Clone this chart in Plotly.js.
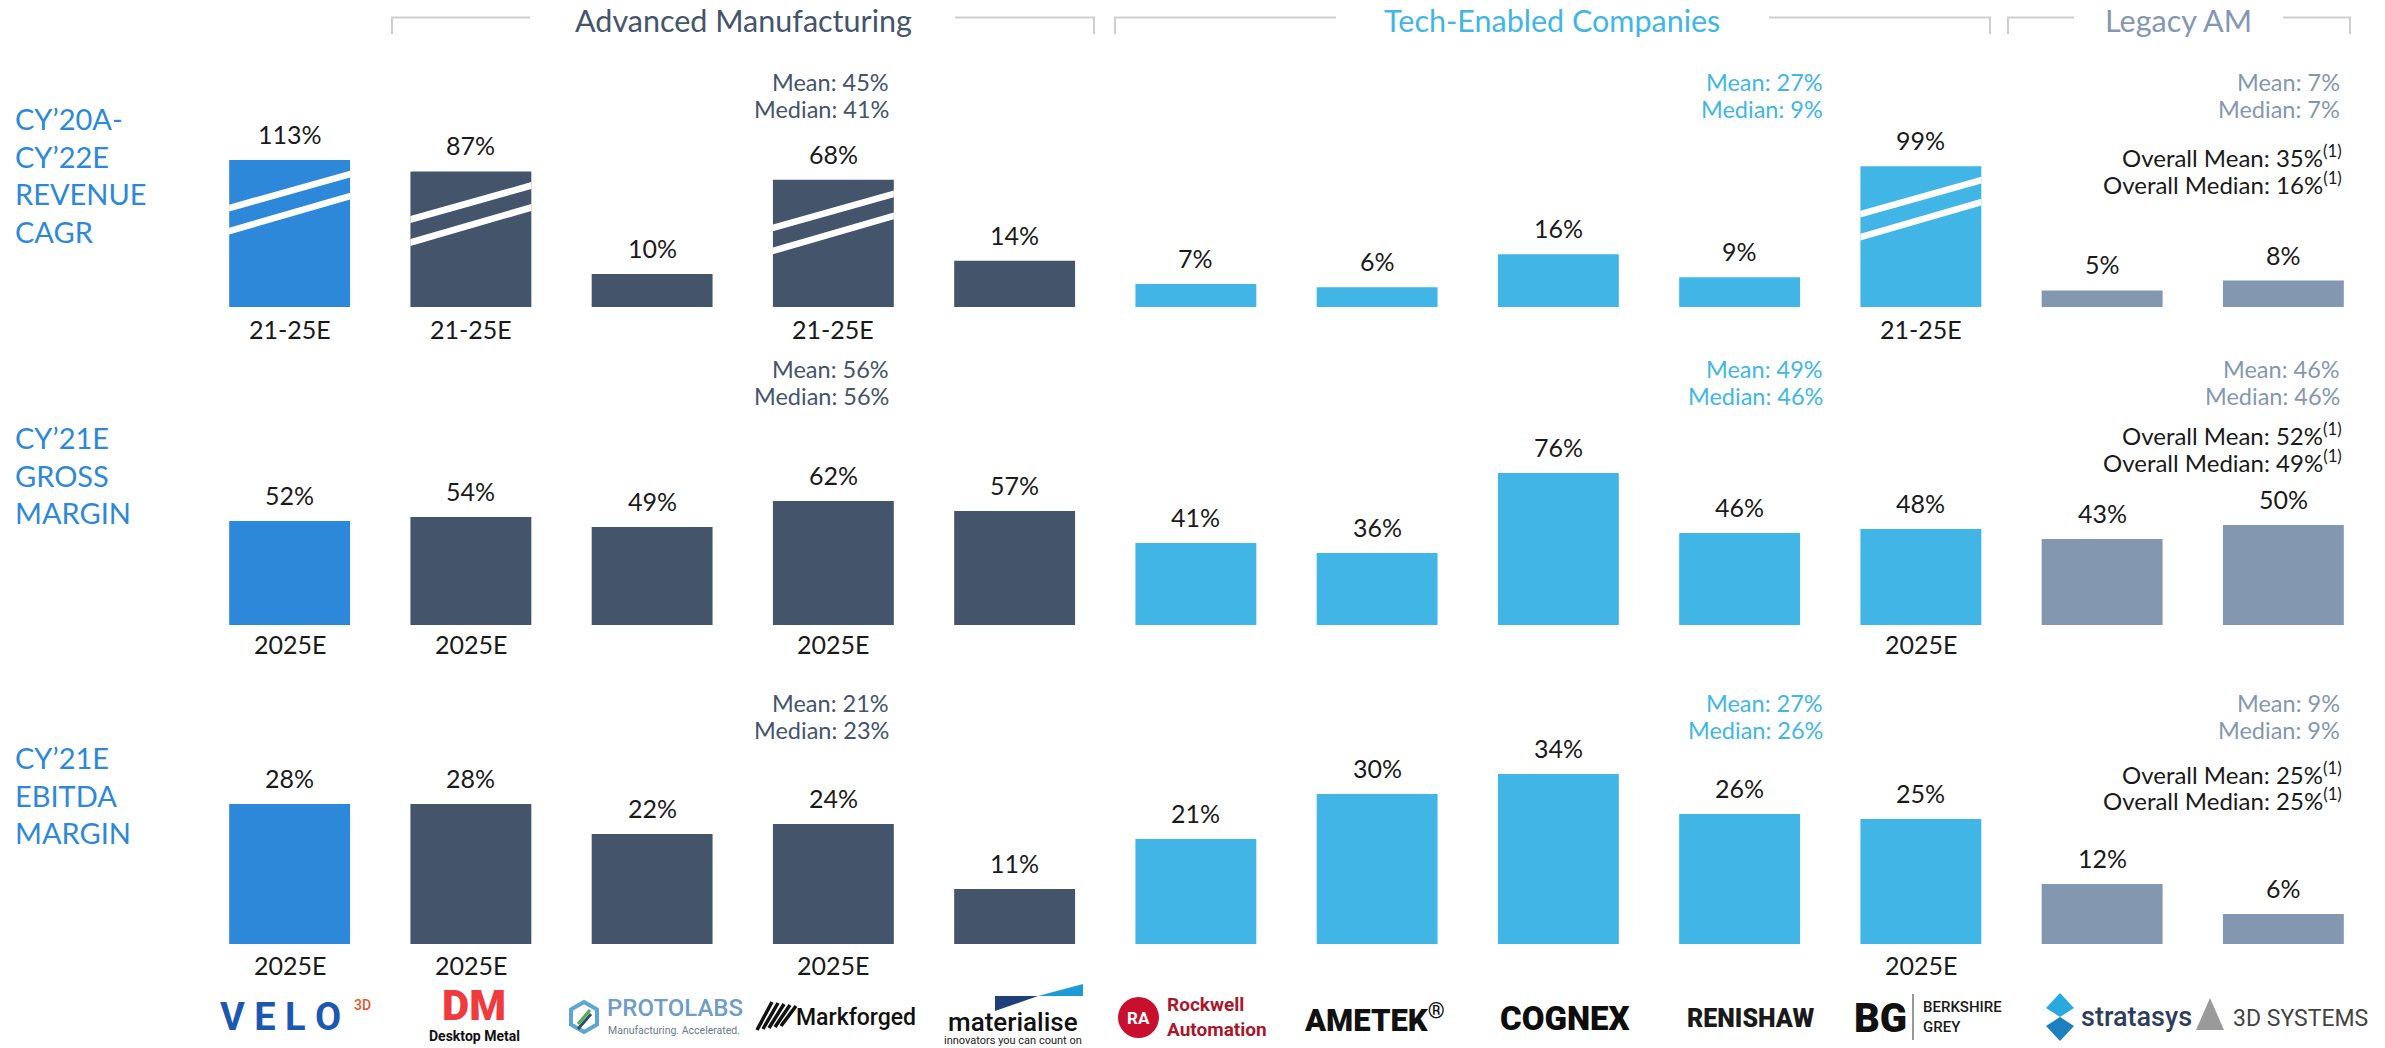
<!DOCTYPE html>
<html><head><meta charset="utf-8">
<script src="https://cdn.plot.ly/plotly-3.0.1.min.js"></script>
<style>html,body{margin:0;padding:0;background:#fff;overflow:hidden}#chart{width:2385px;height:1048px}</style>
</head><body><div id="chart"></div>
<script>
// ---------------- data ----------------
const companies = ['Velo3D','Desktop Metal','Protolabs','Markforged','Materialise','Rockwell Automation','AMETEK','Cognex','Renishaw','Berkshire Grey','Stratasys','3D Systems'];
const companyGroup = ['feature','advanced','advanced','advanced','advanced','tech','tech','tech','tech','tech','legacy','legacy'];
const revenueCagr = [113, 87, 10, 68, 14, 7, 6, 16, 9, 99, 5, 8];
const grossMargin = [52, 54, 49, 62, 57, 41, 36, 76, 46, 48, 43, 50];
const ebitdaMargin = [28, 28, 22, 24, 11, 21, 30, 34, 26, 25, 12, 6];
const periodRevenue = ['21-25E','21-25E','','21-25E','','','','','','21-25E','',''];
const periodMargin = ['2025E','2025E','','2025E','','','','','','2025E','',''];
const rowTitles = ['CY’20A-<br>CY’22E<br>REVENUE<br>CAGR','CY’21E<br>GROSS<br>MARGIN','CY’21E<br>EBITDA<br>MARGIN'];
const groupNames = ['Advanced Manufacturing','Tech-Enabled Companies','Legacy AM'];
const meanRevenue = [45, 27, 7];
const medianRevenue = [41, 9, 7];
const meanGross = [56, 49, 46];
const medianGross = [56, 46, 46];
const meanEbitda = [21, 27, 9];
const medianEbitda = [23, 26, 9];
const overallMean = [35, 52, 25];
const overallMedian = [16, 49, 25];

// ---------------- style / layout ----------------
const W = 2385, H = 1048;
const FONT = 'Lato, "Open Sans", sans-serif';
const fx = p => p / W;
const fy = p => 1 - p / H;
const colors = {feature:'#2E88D9', advanced:'#44546A', tech:'#41B6E6', legacy:'#8497B0'};
const groupColors = [colors.advanced, colors.tech, colors.legacy];
const BREAK = 34, COMPRESS = 0.1333;   // broken-axis scale for the revenue row
const BAR_W = 0.667;

const rows = [
  {values: revenueCagr, period: periodRevenue, mean: meanRevenue, median: medianRevenue, base: 307, top: 40, ppu: 3.3, ax: 'y', brk: true, pShift: 22, meanY: [82,109], overY: [156,182.5], titleY: 175.5},
  {values: grossMargin, period: periodMargin, mean: meanGross, median: medianGross, base: 625, top: 340, ppu: 2.0, ax: 'y2', brk: false, pShift: 19, meanY: [369,396], overY: [434,461], titleY: 475},
  {values: ebitdaMargin, period: periodMargin, mean: meanEbitda, median: medianEbitda, base: 944, top: 660, ppu: 5.0, ax: 'y3', brk: false, pShift: 21, meanY: [703,730], overY: [773,799], titleY: 795}
];
const meanRightX = [891, 1825, 2342];

function shown(v, brk) { return (brk && v > BREAK) ? BREAK + (v - BREAK) * COMPRESS : v; }

const idx = companies.map((_, i) => i);
const traces = [];
const annotations = [];
const shapes = [];

rows.forEach((r, ri) => {
  const ys = r.values.map(v => shown(v, r.brk));
  traces.push({
    type: 'bar', x: idx, y: ys, width: BAR_W, xaxis: 'x', yaxis: r.ax,
    marker: {color: companyGroup.map(g => colors[g]), line: {width: 0}},
    hoverinfo: 'skip', showlegend: false
  });
  // break stripes
  if (r.brk) {
    const sx = [], sy = [];
    const hw = BAR_W / 2, th = 3.4;
    const stripeOff = [[48, 14], [71, 36]];
    r.values.forEach((v, i) => {
      if (v > BREAK) {
        const t = shown(v, true);
        stripeOff.forEach(([l, rr]) => {
          sx.push(i - hw, i + hw, i + hw, i - hw, i - hw, null);
          sy.push(t - (l - th) / r.ppu, t - (rr - th) / r.ppu, t - (rr + th) / r.ppu, t - (l + th) / r.ppu, t - (l - th) / r.ppu, null);
        });
      }
    });
    traces.push({type: 'scatter', mode: 'lines', x: sx, y: sy, xaxis: 'x', yaxis: r.ax, fill: 'toself',
      fillcolor: '#FFFFFF', line: {width: 0, color: '#FFFFFF'}, hoverinfo: 'skip', showlegend: false});
  }
  // value labels
  r.values.forEach((v, i) => {
    annotations.push({x: i, y: ys[i], xref: 'x', yref: r.ax, text: v + '%', showarrow: false,
      yanchor: 'middle', yshift: 26, font: {family: FONT, size: 25, color: '#1A1A1A'}});
    if (r.period[i]) {
      annotations.push({x: i, y: 0, xref: 'x', yref: r.ax, text: r.period[i], showarrow: false,
        yanchor: 'middle', yshift: -r.pShift, font: {family: FONT, size: 25, color: '#1A1A1A'}});
    }
  });
  // mean / median per group
  for (let g = 0; g < 3; g++) {
    annotations.push({x: fx(meanRightX[g]), y: fy(r.meanY[0]), xref: 'paper', yref: 'paper', xanchor: 'right', yanchor: 'middle',
      text: 'Mean: ' + r.mean[g] + '%', showarrow: false, font: {family: FONT, size: 23.5, color: groupColors[g]}});
    annotations.push({x: fx(meanRightX[g]), y: fy(r.meanY[1]), xref: 'paper', yref: 'paper', xanchor: 'right', yanchor: 'middle',
      text: 'Median: ' + r.median[g] + '%', showarrow: false, font: {family: FONT, size: 23.5, color: groupColors[g]}});
  }
  annotations.push({x: fx(2344), y: fy(r.overY[0]), xref: 'paper', yref: 'paper', xanchor: 'right', yanchor: 'middle',
    text: 'Overall Mean: ' + overallMean[ri] + '%<sup>(1)</sup>', showarrow: false, font: {family: FONT, size: 24, color: '#1A1A1A'}});
  annotations.push({x: fx(2344), y: fy(r.overY[1]), xref: 'paper', yref: 'paper', xanchor: 'right', yanchor: 'middle',
    text: 'Overall Median: ' + overallMedian[ri] + '%<sup>(1)</sup>', showarrow: false, font: {family: FONT, size: 24, color: '#1A1A1A'}});
  // row title
  annotations.push({x: fx(13), y: fy(r.titleY), xref: 'paper', yref: 'paper', xanchor: 'left', yanchor: 'middle', align: 'left',
    text: rowTitles[ri], showarrow: false, font: {family: FONT, size: 29, color: '#2E88D9'}});
});

// group headers with brackets
const headerCenters = [743, 1552, 2178];
const brackets = [[392, 530, 955, 1094], [1115, 1336, 1769, 1990], [2008, 2074, 2283, 2350]];
groupNames.forEach((name, g) => {
  annotations.push({x: fx(headerCenters[g]), y: fy(20), xref: 'paper', yref: 'paper', xanchor: 'center', yanchor: 'middle',
    text: name, showarrow: false, font: {family: FONT, size: 30.5, color: groupColors[g]}});
  const [a, b, c, d] = brackets[g];
  const P = (x, y) => fx(x) + ',' + fy(y);
  shapes.push({type: 'path', xref: 'paper', yref: 'paper', line: {color: '#CFCFCF', width: 2},
    path: 'M' + P(a, 34) + 'L' + P(a, 17.5) + 'L' + P(b, 17.5) + 'M' + P(c, 17.5) + 'L' + P(d, 17.5) + 'L' + P(d, 34)});
});

// ---------------- logos (text renditions) ----------------
const LY = 1017;
function A(x, y, text, font, extra) {
  annotations.push(Object.assign({x: fx(x), y: fy(y), xref: 'paper', yref: 'paper', xanchor: 'center', yanchor: 'middle',
    text: text, showarrow: false, font: font}, extra || {}));
}
function PATH(pts, fill, line) {
  const p = pts.map((q, k) => (k ? 'L' : 'M') + fx(q[0]) + ',' + fy(q[1])).join('') + 'Z';
  shapes.push({type: 'path', xref: 'paper', yref: 'paper', path: p, fillcolor: fill || 'rgba(0,0,0,0)',
    line: line || {width: 0}});
}
// Velo3D
A(280, LY, 'V E L O', {family: 'Roboto', size: 38, weight: 700, color: '#1C58B2'});
A(362, 1005, '3D', {family: 'Roboto', size: 14, weight: 500, color: '#E4572E'});
// Desktop Metal
A(474, 1005, 'DM', {family: 'Roboto', size: 42, weight: 900, color: '#EF3B3E'});
A(474, 1036, 'Desktop Metal', {family: 'Roboto', size: 14, weight: 700, color: '#111111'});
// Protolabs
(function(){ const cx = 584, cy = 1017, r = 15, pts = [];
  for (let k = 0; k < 6; k++) { const a = Math.PI / 6 + k * Math.PI / 3; pts.push([cx + r * Math.cos(a), cy + r * Math.sin(a)]); }
  PATH(pts, 'rgba(0,0,0,0)', {color: '#5DA6D2', width: 4});
  shapes.push({type:'line', xref:'paper', yref:'paper', x0: fx(578), y0: fy(1024), x1: fx(590), y1: fy(1010), line:{color:'#4CAF50', width:3}});
  shapes.push({type:'line', xref:'paper', yref:'paper', x0: fx(578), y0: fy(1029), x1: fx(591), y1: fy(1014), line:{color:'#2F4E6B', width:3}});
})();
A(605, 1008, 'PROTOLABS', {family: 'Roboto', size: 24, weight: 500, color: '#6F9DC7'}, {xanchor: 'left'});
A(606, 1030, 'Manufacturing. Accelerated.', {family: 'Roboto', size: 10.5, color: '#6B7B8A'}, {xanchor: 'left'});
// Markforged
for (let k = 0; k < 5; k++) {
  shapes.push({type:'line', xref:'paper', yref:'paper', x0: fx(757 + k * 6), y0: fy(1030 - k * 1), x1: fx(772 + k * 6), y1: fy(1002 + k * 1),
    line:{color:'#111111', width:3.5}});
}
A(794, 1017, 'Markforged', {family: 'Roboto', size: 23, weight: 500, color: '#111111'}, {xanchor: 'left'});
// Materialise
PATH([[1038, 996], [1083, 984], [1083, 996]], '#1E9BD7');
PATH([[995, 996], [1038, 996], [995, 1011]], '#1E3F7A');
A(1013, 1022, 'materialise', {family: 'Roboto', size: 26, weight: 500, color: '#111111'});
A(1013, 1040, 'innovators you can count on', {family: 'Roboto', size: 11, color: '#222222'});
// Rockwell Automation
shapes.push({type:'circle', xref:'paper', yref:'paper', x0: fx(1118), x1: fx(1159), y0: fy(997), y1: fy(1038), fillcolor:'#C8102E', line:{width:0}});
A(1138, 1018, 'RA', {family: 'Roboto', size: 17, weight: 700, color: '#FFFFFF'});
A(1165, 1017, 'Rockwell<br>Automation', {family: 'Roboto', size: 19, weight: 700, color: '#A8182C'}, {xanchor: 'left', align: 'left'});
// AMETEK
A(1375, 1018, 'AMETEK<sup>®</sup>', {family: 'Roboto', size: 31, weight: 900, color: '#111111'});
// Cognex
A(1565, 1018, 'COGNEX', {family: 'Roboto', size: 33, weight: 900, color: '#0D0D0D'});
// Renishaw
A(1750, 1018, 'RENISHAW', {family: 'Roboto', size: 25, weight: 900, color: '#1A1A1A'});
// Berkshire Grey
A(1880, 1018, 'BG', {family: 'Roboto', size: 40, weight: 900, color: '#111111'});
shapes.push({type:'line', xref:'paper', yref:'paper', x0: fx(1913), x1: fx(1913), y0: fy(994), y1: fy(1040), line:{color:'#333333', width:1}});
A(1921, 1017, 'BERKSHIRE<br>GREY', {family: 'Roboto', size: 15, weight: 500, color: '#1A1A1A'}, {xanchor: 'left', align: 'left'});
// Stratasys
PATH([[2060, 993], [2074, 1008], [2060, 1017], [2046, 1008]], '#2AA8E0');
PATH([[2060, 1017], [2074, 1026], [2060, 1041], [2046, 1026]], '#1C7FC0');
A(2079, 1017, 'stratasys', {family: 'Roboto', size: 27, weight: 500, color: '#2C3E5C'}, {xanchor: 'left'});
// 3D Systems
PATH([[2210, 998], [2224, 1030], [2196, 1030]], '#9A9A9A');
A(2231, 1018, '3D SYSTEMS', {family: 'Roboto', size: 23, weight: 400, color: '#444444'}, {xanchor: 'left'});

const layout = {
  width: W, height: H, margin: {l: 0, r: 0, t: 0, b: 0},
  paper_bgcolor: '#FFFFFF', plot_bgcolor: 'rgba(0,0,0,0)',
  showlegend: false, barmode: 'overlay',
  font: {family: FONT},
  xaxis: {domain: [199 / W, 2374 / W], range: [-0.5, 11.5], visible: false, fixedrange: true},
  annotations: annotations, shapes: shapes
};
rows.forEach((r, ri) => {
  const key = ri === 0 ? 'yaxis' : 'yaxis' + (ri + 1);
  layout[key] = {domain: [fy(r.base), fy(r.top)], range: [0, (r.base - r.top) / r.ppu], visible: false,
    anchor: 'x', fixedrange: true, showgrid: false, zeroline: false};
});

Plotly.newPlot('chart', traces, layout, {displayModeBar: false, staticPlot: true});
</script>
</body></html>
